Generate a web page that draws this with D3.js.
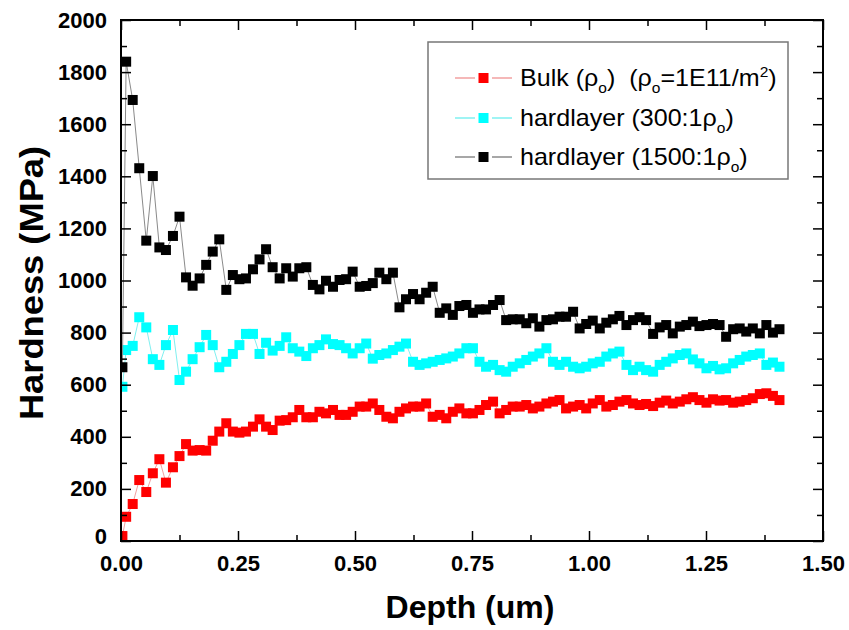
<!DOCTYPE html>
<html><head><meta charset="utf-8">
<script src="https://cdn.jsdelivr.net/npm/d3@7"></script>
<style>body{margin:0;background:#fff} svg{display:block}</style>
</head><body>
<svg id="chart" width="849" height="630"></svg>
<script>
// ---------- DATA ----------
const depth = [0.003,0.011,0.025,0.039,0.054,0.068,0.082,0.096,0.111,0.125,
0.139,0.153,0.168,0.182,0.196,0.210,0.225,0.239,0.253,0.267,
0.282,0.296,0.310,0.324,0.339,0.353,0.367,0.381,0.396,0.410,
0.424,0.438,0.453,0.467,0.481,0.495,0.510,0.524,0.538,0.552,
0.567,0.581,0.595,0.609,0.624,0.638,0.652,0.666,0.681,0.695,
0.709,0.723,0.738,0.752,0.766,0.780,0.795,0.809,0.823,0.837,
0.852,0.866,0.880,0.894,0.909,0.923,0.937,0.951,0.966,0.980,
0.994,1.008,1.023,1.037,1.051,1.065,1.080,1.094,1.108,1.122,
1.137,1.151,1.165,1.179,1.194,1.208,1.222,1.236,1.251,1.265,
1.279,1.293,1.308,1.322,1.336,1.350,1.365,1.379,1.393,1.407];

const bulk = [19,93,142,234,188,260,314,224,283,326,
372,347,349,347,385,420,452,420,416,420,
439,467,439,426,462,464,475,503,475,475,
496,490,503,484,484,496,516,516,528,503,
477,471,496,509,516,516,528,477,484,471,
496,509,490,490,503,522,535,490,503,516,
516,522,509,516,528,535,541,509,516,522,
509,528,541,516,522,535,541,528,522,526,
518,531,539,528,535,544,552,541,531,544,
539,541,531,535,541,548,564,567,557,541];

const hard300 = [592,733,749,859,820,698,676,752,810,618,
650,698,744,791,752,667,688,718,752,795,
795,718,761,731,749,782,740,727,710,740,
752,774,756,752,740,720,740,758,700,714,
720,733,746,758,688,676,682,688,695,701,
708,720,740,740,688,669,676,656,650,669,
682,695,708,720,740,688,676,688,669,663,
669,682,688,708,720,727,676,656,669,656,
650,676,688,701,714,720,697,682,663,672,
659,663,682,695,708,714,720,676,685,669];

const hard1500 = [667,1840,1693,1431,1153,1401,1127,1117,1171,1245,
1012,980,1008,1060,1111,1158,964,1021,1005,1008,
1043,1081,1120,1051,1008,1047,1015,1047,1051,983,
966,999,976,1002,1005,1034,976,979,990,1030,
1005,1030,897,928,948,928,953,976,876,893,
868,902,906,876,889,889,906,925,848,851,
851,836,855,823,848,851,861,861,880,816,
833,846,816,838,851,864,829,848,859,848,
795,820,829,797,823,829,842,825,829,833,
829,784,813,816,804,816,797,829,800,813];

const xMajor = [0, 0.25, 0.5, 0.75, 1.0, 1.25, 1.5];
const xMinor = [0.125, 0.375, 0.625, 0.875, 1.125, 1.375];
const yMajor = [0,200,400,600,800,1000,1200,1400,1600,1800,2000];
const yMinor = [100,300,500,700,900,1100,1300,1500,1700,1900];

const seriesNames = ["bulk","hard300","hard1500"];
const seriesValues = [bulk, hard300, hard1500];
const markerColors = ["#ff0000","#00ffff","#000000"];
const lineColors = ["#f2a0a0","#7ff0f0","#8a8a8a"];

// ---------- LAYOUT ----------
const L = 121, R = 823, T = 20, B = 541;
const font = "'Liberation Sans', Arial, Helvetica, sans-serif";
const svg = d3.select("#chart");
const x = d3.scaleLinear().domain([0,1.5]).range([L,R]);
const y = d3.scaleLinear().domain([0,2000]).range([B,T]);

svg.append("defs").append("clipPath").attr("id","clip")
  .append("rect").attr("x",L).attr("y",T).attr("width",R-L).attr("height",B-T);

// ---------- SERIES ----------
const plot = svg.append("g").attr("clip-path","url(#clip)");
const ms = 10;
seriesValues.forEach((vals, si) => {
  const pts = depth.map((d,i)=>({d:d, v:vals[i]}));
  plot.append("path").datum(pts)
    .attr("d", d3.line().x(p=>x(p.d)).y(p=>y(p.v)))
    .attr("fill","none").attr("stroke",lineColors[si]).attr("stroke-width",1);
  plot.append("g").selectAll("rect").data(pts).enter().append("rect")
    .attr("x",p=>x(p.d)-ms/2).attr("y",p=>y(p.v)-ms/2)
    .attr("width",ms).attr("height",ms).attr("fill",markerColors[si]);
});

// ---------- AXES ----------
function styleAxis(g){
  g.select(".domain").remove();
  g.selectAll(".tick line").attr("stroke","#000").attr("stroke-width",1.5);
  g.selectAll(".tick text").attr("font-family",font).attr("font-weight","bold")
    .attr("font-size",22).attr("fill","#000");
}
const maj = 10, mnr = 6;
svg.append("g").attr("transform",`translate(0,${B})`)
  .call(d3.axisBottom(x).tickValues(xMajor).tickSize(-maj).tickPadding(14).tickFormat(d3.format(".2f"))).call(styleAxis);
svg.append("g").attr("transform",`translate(0,${B})`)
  .call(d3.axisBottom(x).tickValues(xMinor).tickSize(-mnr).tickFormat("")).call(styleAxis);
svg.append("g").attr("transform",`translate(0,${T})`)
  .call(d3.axisTop(x).tickValues(xMajor).tickSize(-maj).tickFormat("")).call(styleAxis);
svg.append("g").attr("transform",`translate(0,${T})`)
  .call(d3.axisTop(x).tickValues(xMinor).tickSize(-mnr).tickFormat("")).call(styleAxis);
const yAx = svg.append("g").attr("transform",`translate(${L},0)`)
  .call(d3.axisLeft(y).tickValues(yMajor).tickSize(-maj).tickPadding(14).tickFormat(d3.format("d"))).call(styleAxis);
yAx.selectAll(".tick text").filter(d=>d===0).attr("dy","0.1em");
svg.append("g").attr("transform",`translate(${L},0)`)
  .call(d3.axisLeft(y).tickValues(yMinor).tickSize(-mnr).tickFormat("")).call(styleAxis);
svg.append("g").attr("transform",`translate(${R},0)`)
  .call(d3.axisRight(y).tickValues(yMajor).tickSize(-maj).tickFormat("")).call(styleAxis);
svg.append("g").attr("transform",`translate(${R},0)`)
  .call(d3.axisRight(y).tickValues(yMinor).tickSize(-mnr).tickFormat("")).call(styleAxis);

svg.append("rect").attr("x",L).attr("y",T).attr("width",R-L).attr("height",B-T)
  .attr("fill","none").attr("stroke","#000").attr("stroke-width",2);

// ---------- TITLES ----------
svg.append("text").attr("x",470).attr("y",618).attr("text-anchor","middle")
  .attr("font-family",font).attr("font-weight","bold").attr("font-size",32).text("Depth (um)");
svg.append("text").attr("transform","translate(43,283) rotate(-90) scale(1.1,1)").attr("text-anchor","middle")
  .attr("font-family",font).attr("font-weight","bold").attr("font-size",33).text("Hardness (MPa)");

// ---------- LEGEND ----------
const leg = svg.append("g");
leg.append("rect").attr("x",428).attr("y",42).attr("width",360).attr("height",137)
  .attr("fill","#fff").attr("stroke","#777").attr("stroke-width",1.5);
const legendParts = [
  [["Bulk (ρ",""],["o","sub"],[")\u00a0\u00a0(ρ",""],["o","sub"],["=1E11/m",""],["2","sup"],[")",""]],
  [["hardlayer (300:1ρ",""],["o","sub"],[")",""]],
  [["hardlayer (1500:1ρ",""],["o","sub"],[")",""]]
];
const rowY = [78,118,157];
const fs = 23;
legendParts.forEach((parts, i) => {
  const cy = rowY[i];
  leg.append("line").attr("x1",455).attr("x2",475).attr("y1",cy).attr("y2",cy).attr("stroke",lineColors[i]).attr("stroke-width",1.5);
  leg.append("line").attr("x1",492).attr("x2",512).attr("y1",cy).attr("y2",cy).attr("stroke",lineColors[i]).attr("stroke-width",1.5);
  leg.append("rect").attr("x",483.5-ms/2).attr("y",cy-ms/2).attr("width",ms).attr("height",ms).attr("fill",markerColors[i]);
  const t = leg.append("text").attr("transform",`translate(520,${cy+8}) scale(1.09,1)`)
    .attr("font-family",font).attr("font-size",fs).attr("fill","#000");
  let shift = 0;
  parts.forEach(([s,kind]) => {
    let target = kind==="sub" ? 7 : kind==="sup" ? -9 : 0;
    t.append("tspan").attr("dy", target-shift).attr("font-size", kind ? fs*0.62 : fs).text(s);
    shift = target;
  });
});
</script>
</body></html>
